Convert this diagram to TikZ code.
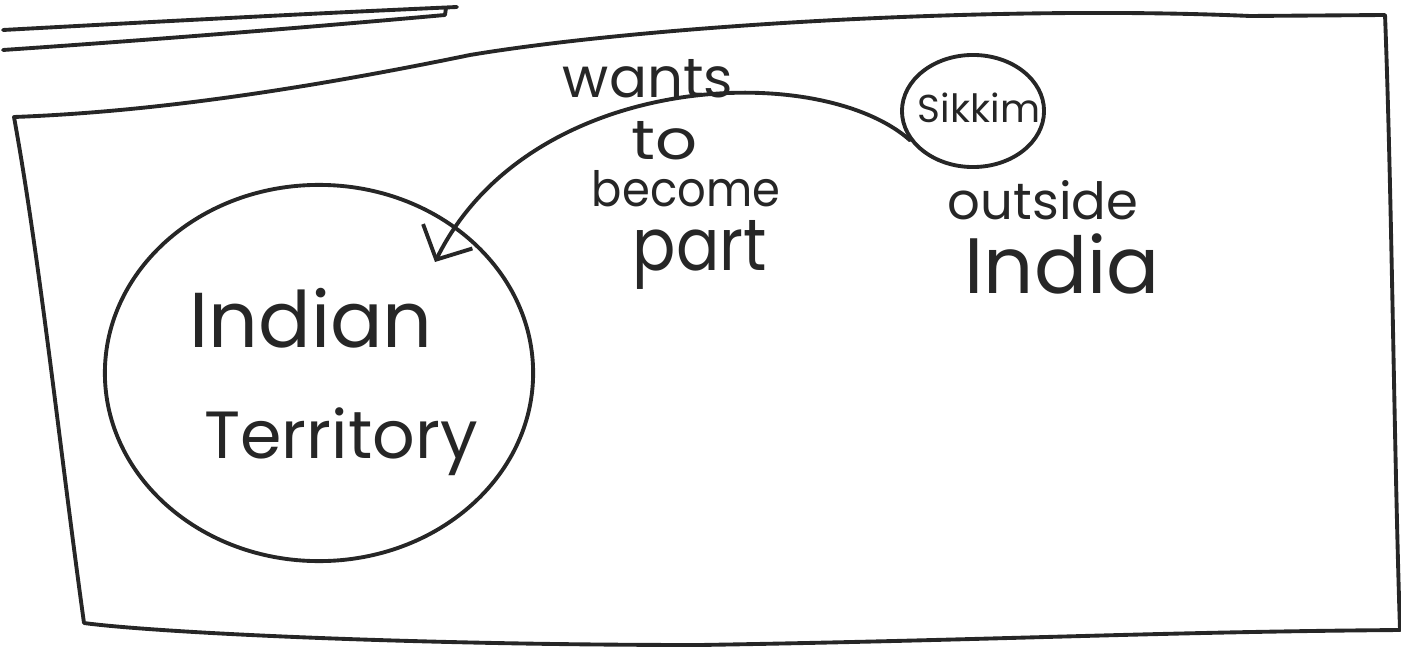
\documentclass[tikz,border=0pt]{standalone}
\usepackage{fontspec}
\setmainfont{Poppins}
\usetikzlibrary{shapes.geometric,arrows.meta}
\newcommand{\hw}[2]{\resizebox{#1}{!}{#2}}
\newcommand{\hwb}[3]{\resizebox{#1}{#2}{#3}}
\tikzset{
  pen/.style={line width=1.1pt, line cap=round, line join=round, black!85},
  hwtext/.style={inner sep=0pt, text=black!85},
  blob/.style={pen, draw, ellipse, inner sep=0pt},
}
\begin{document}
\begin{tikzpicture}[x=0.01cm,y=-0.01cm]
\useasboundingbox (0,0) rectangle (1401,649);
% top double lines
\draw[pen] (3,30) .. controls (150,22) and (300,14) .. (457,7);
\draw[pen] (3,50) .. controls (150,40) and (300,28) .. (445,15) -- (446,8);
% page frame
\draw[pen] (14,117) .. controls (150,112) and (300,90) .. (470,55)
  .. controls (650,25) and (1000,5) .. (1250,16) -- (1385,15)
  .. controls (1392,200) and (1394,450) .. (1400,630)
  .. controls (1150,632) and (1000,640) .. (700,645)
  .. controls (400,645) and (150,632) .. (84,623)
  .. controls (60,450) and (40,260) .. (14,117) -- cycle;
% big circle
\node[blob, minimum width=4.28cm, minimum height=3.76cm] (india) at (319,373) {};
\node[hwtext] (indian) at (311,318) {\hw{2.43cm}{Indian}};
\node[hwtext] (terr) at (341,442) {\hw{2.73cm}{Territory}};
% Sikkim
\node[blob, minimum width=1.42cm, minimum height=1.12cm] (sikkimc) at (973,111) {};
\node[hwtext] (sikkim) at (979,108) {\hw{1.22cm}{Sikkim}};
\node[hwtext] (outside) at (1043,200) {\hw{1.9cm}{outside}};
\node[hwtext] (indiaw) at (1062,264) {\hw{1.95cm}{India}};
% arrow
\coordinate (tip) at (435,262);
\draw[pen, -{Straight Barb[length=2.6mm,width=5.5mm]}] (sikkimc.205) .. controls (820,60) and (530,70) .. (tip);
% labels
\node[hwtext] (wants) at (648,79) {\hwb{1.7cm}{0.38cm}{wants}};
\node[hwtext] (to) at (665,141) {\hwb{0.66cm}{0.38cm}{to}};
\node[hwtext] (become) at (686,189) {\hwb{1.88cm}{0.36cm}{become}};
\node[hwtext] (part) at (700,255) {\hwb{1.34cm}{0.5cm}{part}};
\end{tikzpicture}
\end{document}
